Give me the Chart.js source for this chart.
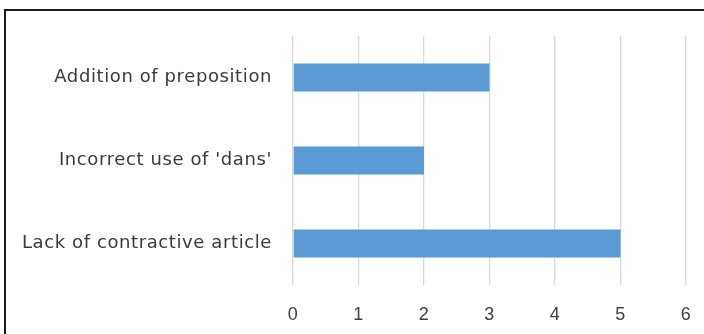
<!DOCTYPE html>
<html>
<head>
<meta charset="utf-8">
<script src="https://cdn.jsdelivr.net/npm/chart.js@4.4.1/dist/chart.umd.min.js"></script>
<style>
    html, body { margin: 0; padding: 0; background: #ffffff; overflow: hidden; }
    #frame {
        position: absolute; left: 4px; top: 9px; width: 700px; height: 325px;
        border-top: 2px solid #1a1a1a; border-left: 2px solid #1a1a1a;
    }
    #wrap { position: absolute; left: 0; top: 0; width: 704px; height: 334px; }
</style>
</head>
<body>
<div id="frame"></div>
<div id="wrap"><canvas id="errorChart"></canvas></div>
<script>
const categories = ['Addition of preposition', "Incorrect use of 'dans'", 'Lack of contractive article'];
const counts = [3, 2, 5];
const xTicks = [0, 1, 2, 3, 4, 5, 6];

// slightly wider tracking for the category labels
const spacing = {
    id: 'spacing',
    beforeUpdate: function (chart) { chart.ctx.letterSpacing = '0.6px'; },
    beforeDraw: function (chart) { chart.ctx.letterSpacing = '0.6px'; },
};

const config = {
    type: 'bar',
    data: {
        labels: categories,
        datasets: [{
            data: counts,
            backgroundColor: '#5B9BD5',
            borderWidth: 0,
            categoryPercentage: 1,
            barPercentage: 0.34,
        }]
    },
    plugins: [spacing],
    options: {
        indexAxis: 'y',
        responsive: true,
        maintainAspectRatio: false,
        animation: false,
        layout: {
            padding: { top: 36, right: 18, left: 0, bottom: 0 }
        },
        plugins: {
            legend: { display: false },
            tooltip: { enabled: false },
        },
        scales: {
            x: {
                min: 0,
                max: 6,
                afterBuildTicks: function (axis) {
                    axis.ticks = xTicks.map(v => ({ value: v }));
                },
                afterFit: function (axis) {
                    axis.height = 49;
                    axis.paddingLeft = 0;
                    axis.paddingRight = 0;
                },
                grid: {
                    color: '#D9D9D9',
                    lineWidth: 1.3,
                    drawTicks: false,
                },
                border: { display: false },
                ticks: {
                    color: '#404040',
                    font: { family: 'Liberation Sans', size: 18 },
                    padding: 19,
                },
            },
            y: {
                afterFit: function (axis) {
                    axis.width = 293;
                },
                grid: { display: false, drawTicks: false },
                border: { display: false },
                ticks: {
                    color: '#3a3a3a',
                    font: { family: 'DejaVu Sans', size: 18 },
                    padding: 21,
                },
            },
        }
    }
};

new Chart(document.getElementById('errorChart'), config);
</script>
</body>
</html>
